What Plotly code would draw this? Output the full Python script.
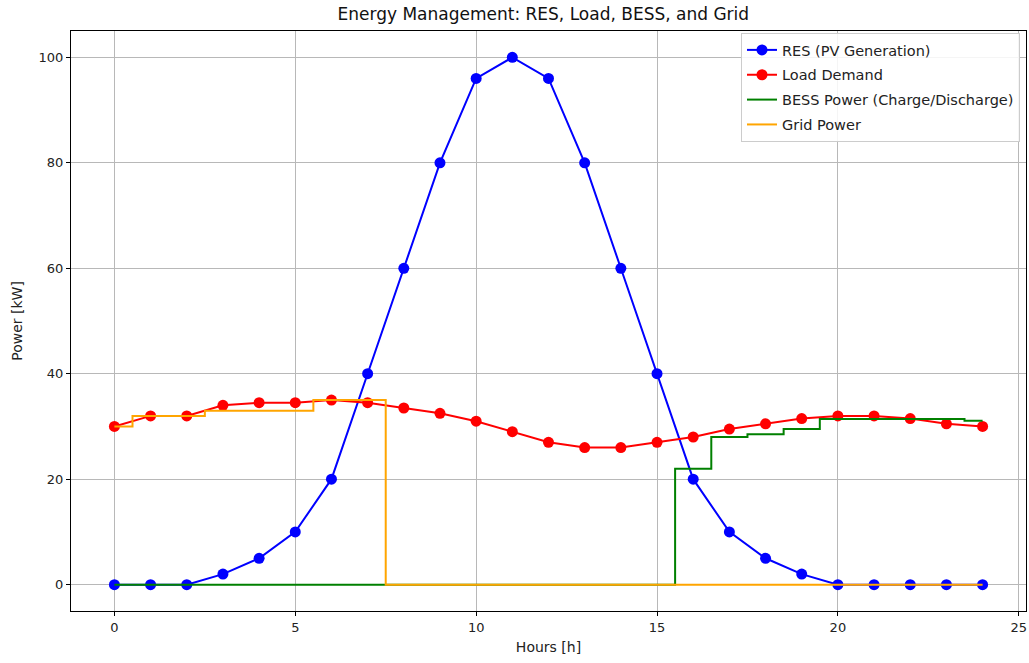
import plotly.graph_objects as go

# Hourly profile, hours 0..24
hours = list(range(25))
res_pv = [0, 0, 0, 2, 5, 10, 20, 40, 60, 80, 96, 100, 96, 80, 60, 40, 20, 10, 5, 2, 0, 0, 0, 0, 0]
load_demand = [30, 32, 32, 34, 34.5, 34.5, 35, 34.5, 33.5, 32.5, 31, 29, 27, 26, 26, 27, 28, 29.5,
               30.5, 31.5, 32, 32, 31.5, 30.5, 30]
bess_power = [0, 0, 0, 0, 0, 0, 0, 0, 0, 0, 0, 0, 0, 0, 0, 0, 22, 28, 28.5, 29.5, 31.4, 31.4, 31.4,
              31.4, 31.1]
grid_power = [30, 32, 32, 33, 33, 33, 35, 35, 0, 0, 0, 0, 0, 0, 0, 0, 0, 0, 0, 0, 0, 0, 0, 0, 0]

x_ticks = [0, 5, 10, 15, 20, 25]
y_ticks = [0, 20, 40, 60, 80, 100]

font_family = "DejaVu Sans"

fig = go.Figure()
fig.add_trace(go.Scatter(x=hours, y=res_pv, mode="lines+markers", name="RES (PV Generation)",
                         legendgroup="res",
                         line=dict(color="#0000ff", width=2), marker=dict(color="#0000ff", size=11)))
fig.add_trace(go.Scatter(x=hours, y=load_demand, mode="lines+markers", name="Load Demand",
                         legendgroup="load",
                         line=dict(color="#ff0000", width=2), marker=dict(color="#ff0000", size=11)))
fig.add_trace(go.Scatter(x=hours, y=bess_power, mode="lines", name="BESS Power (Charge/Discharge)",
                         legendgroup="bess",
                         line=dict(color="#008000", width=2, shape="hvh")))
fig.add_trace(go.Scatter(x=hours, y=grid_power, mode="lines", name="Grid Power",
                         legendgroup="grid",
                         line=dict(color="#ffa500", width=2, shape="hvh")))

axis_common = dict(showgrid=True, gridcolor="#b8b8b8", gridwidth=1, zeroline=False,
                   showline=True, linecolor="black", linewidth=1, mirror=True,
                   ticks="outside", ticklen=4, tickcolor="black",
                   tickfont=dict(family=font_family, size=13, color="#222"))

fig.update_xaxes(range=[-1.2, 25.2], tickvals=x_ticks,
                 title=dict(text="Hours [h]", font=dict(family=font_family, size=14, color="#222"),
                            standoff=8),
                 **axis_common)
fig.update_yaxes(range=[-5, 105], tickvals=y_ticks,
                 title=dict(text="Power [kW]", font=dict(family=font_family, size=14, color="#222"),
                            standoff=12),
                 **axis_common)

fig.update_layout(
    width=1029, height=663,
    margin=dict(l=71, r=3, t=31, b=52),
    paper_bgcolor="white", plot_bgcolor="white",
    font=dict(family=font_family, color="#222"),
    title=dict(text="Energy Management: RES, Load, BESS, and Grid", x=0.528, xanchor="center",
               y=0.979, yanchor="middle", font=dict(family=font_family, size=17, color="#111")),
    legend=dict(x=0.9937, xanchor="right", y=0.9966, yanchor="top",
                bgcolor="rgba(255,255,255,0.85)", bordercolor="#cccccc", borderwidth=1,
                tracegroupgap=3,
                font=dict(family=font_family, size=14.5, color="#222")),
)

fig.write_html("out.html")
